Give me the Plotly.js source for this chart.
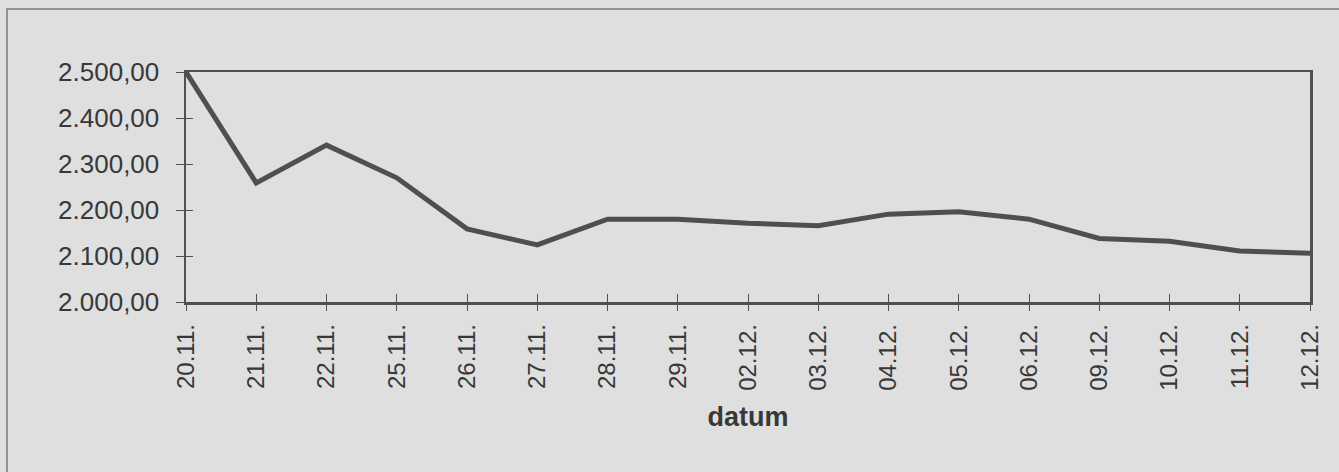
<!DOCTYPE html>
<html>
<head>
<meta charset="utf-8">
<script src="https://cdn.plot.ly/plotly-3.0.1.min.js"></script>
<style>
html,body{margin:0;padding:0;background:#dfdfdf;}
#chart{width:1339px;height:472px;}
</style>
</head>
<body>
<div id="chart"></div>
<script>
const dates = ["20.11.","21.11.","22.11.","25.11.","26.11.","27.11.","28.11.","29.11.","02.12.","03.12.","04.12.","05.12.","06.12.","09.12.","10.12.","11.12.","12.12."];
const values = [2500, 2259, 2341, 2270, 2159, 2124, 2180, 2180, 2171, 2166, 2191, 2196, 2180, 2138, 2132, 2111, 2106];
const yTicks = [2000, 2100, 2200, 2300, 2400, 2500];
const xTitle = "datum";

const trace = {
  x: dates,
  y: values,
  type: "scatter",
  mode: "lines",
  line: {color: "#4f4f4f", width: 5},
  hoverinfo: "x+y"
};

const axisColor = "#505050";
const txtColor = "#383838";

const layout = {
  width: 1339,
  height: 472,
  paper_bgcolor: "#dfdfdf",
  plot_bgcolor: "#dfdfdf",
  separators: ",.",
  showlegend: false,
  margin: {l: 186, r: 29, t: 72, b: 170},
  font: {family: "Liberation Sans, Arial, sans-serif", color: txtColor},
  xaxis: {
    type: "category",
    range: [0, dates.length - 1],
    tickangle: -90,
    ticks: "outside",
    ticklen: 6,
    tickwidth: 1,
    tickcolor: axisColor,
    tickfont: {size: 24, color: txtColor},
    ticklabelstandoff: 4,
    showgrid: false,
    zeroline: false,
    showline: true,
    linecolor: axisColor,
    linewidth: 2.5,
    mirror: true,
    title: {text: "<b>" + xTitle + "</b>", font: {size: 27, color: txtColor}, standoff: 18}
  },
  xaxis2: {
    overlaying: "x",
    anchor: "y",
    side: "bottom",
    range: [0, dates.length - 1],
    tickvals: dates.map((d, i) => i),
    showticklabels: false,
    ticks: "inside",
    ticklen: 8,
    tickwidth: 1,
    tickcolor: axisColor,
    showgrid: false,
    zeroline: false,
    showline: false
  },
  yaxis: {
    range: [2000, 2500],
    tickvals: yTicks,
    tickformat: ",.2f",
    ticks: "outside",
    ticklen: 8,
    tickwidth: 1,
    tickcolor: axisColor,
    tickfont: {size: 26, color: txtColor},
    ticklabelstandoff: 11,
    showgrid: false,
    zeroline: false,
    showline: true,
    linecolor: axisColor,
    linewidth: 2.5,
    mirror: true
  },
  yaxis2: {
    overlaying: "y",
    anchor: "x",
    side: "left",
    range: [2000, 2500],
    tickvals: yTicks,
    showticklabels: false,
    ticks: "inside",
    ticklen: 7,
    tickwidth: 1,
    tickcolor: axisColor,
    showgrid: false,
    zeroline: false,
    showline: false
  },
  shapes: [{
    type: "rect",
    xref: "paper", yref: "paper",
    x0: -179/1124, x1: 1400/1124,
    y0: -200/230, y1: 63/230 + 1,
    line: {color: "#7a7a7a", width: 1.5},
    fillcolor: "rgba(0,0,0,0)",
    layer: "below"
  }]
};

const dummy = {x: [0, dates.length - 1], y: [2000, 2000], xaxis: "x2", yaxis: "y2", mode: "lines", line: {width: 0}, hoverinfo: "skip", showlegend: false};

Plotly.newPlot("chart", [trace, dummy], layout, {displayModeBar: false, staticPlot: true});
</script>
</body>
</html>
